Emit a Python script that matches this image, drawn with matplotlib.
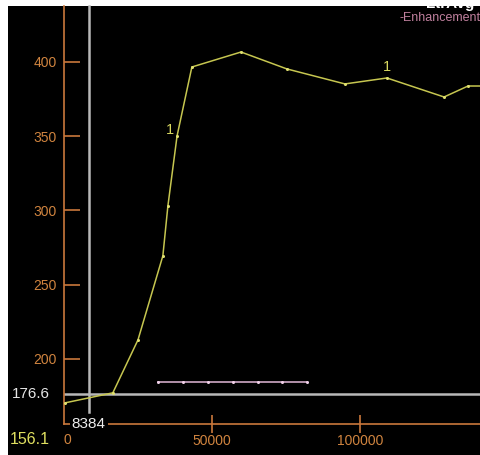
import matplotlib
matplotlib.use("Agg")
import matplotlib.pyplot as plt
from matplotlib.patches import Rectangle

plt.rcParams['font.family'] = ['Liberation Sans', 'DejaVu Sans']

# data
main_x = [500, 16500, 25000, 33400, 35100, 38200, 43200, 59800, 75300, 94900, 109100, 128400, 136500, 150000]
main_y = [170.4, 177.1, 212.8, 269.4, 303.0, 350.2, 396.6, 406.7, 395.3, 385.2, 389.2, 376.4, 383.8, 383.8]
enh_x = [31800, 40200, 48600, 57100, 65500, 73600, 82100]
enh_y = [184.5, 184.5, 184.5, 184.5, 184.5, 184.5, 184.5]
label_points = [(38200, 350.2), (109100, 389.2)]
yticks = [200, 250, 300, 350, 400]
xticks = [50000, 100000]
cross_x = 8384
cross_y = 176.6
ymin = 156.1
xmax = 140878
ymax = 437.7

W, H = 481, 455
fig = plt.figure(figsize=(W / 100, H / 100), dpi=100, facecolor='white')
fig.patches.append(Rectangle((8 / W, 0), 1, (H - 6) / H, transform=fig.transFigure,
                             facecolor='black', edgecolor='none', zorder=-5))

ax = fig.add_axes([64 / W, (H - 424) / H, (W - 64) / W, (424 - 6) / H])
ax.set_zorder(1)
ax.set_facecolor('black')
ax.set_xlim(0, xmax)
ax.set_ylim(ymin, ymax)

orange = '#c9773b'
for s in ['top', 'right']:
    ax.spines[s].set_visible(False)
for s in ['left', 'bottom']:
    ax.spines[s].set_color(orange)
    ax.spines[s].set_linewidth(1.2)

ax.set_yticks(yticks)
ax.set_xticks(xticks)
ax.tick_params(axis='y', direction='in', length=11.5, width=1.2, color=orange,
               labelcolor='#d0843f', labelsize=10, pad=5)
ax.tick_params(axis='x', direction='inout', length=13, width=1.2, color=orange,
               labelcolor='#d0843f', labelsize=10, pad=1)

yellow = '#c6c650'
ax.plot(main_x, main_y, color=yellow, lw=1.1, marker='o', ms=2.2,
        mfc='#e0e070', mec='none', zorder=3)
ax.plot(enh_x, enh_y, color='#e2b8d8', lw=1.1, marker='o', ms=2.2,
        mfc='#f0d0e8', mec='none', zorder=3)
for (px, py), (dx, dy) in zip(label_points, [(-7, 6), (0, 11)]):
    ax.annotate('1', (px, py), xytext=(dx * 0.72, dy * 0.72), textcoords='offset points',
                color='#d8d860', fontsize=10.5, ha='center', va='center', zorder=4)

# crosshair
ax.axhline(cross_y, color='#b8b8b8', lw=1.8, zorder=2)
ax.plot([cross_x, cross_x], [164.2, ymax], color='#b8b8b8', lw=1.8, zorder=2,
        clip_on=False)

ax.text(-0.033, cross_y, f'{cross_y}', transform=ax.get_yaxis_transform(),
        color='#e6e6e6', fontsize=11, ha='right', va='center')
ax.text(cross_x, ymin, f'{cross_x}', color='#eeeeee', fontsize=11, ha='center',
        va='center', bbox=dict(facecolor='black', edgecolor='none', pad=1.5),
        clip_on=False, zorder=5)
ax.text(-0.033, ymin - 10.5, f'{ymin}', transform=ax.get_yaxis_transform(),
        color='#e0e060', fontsize=11.5, ha='right', va='center', clip_on=False)
ax.text(1000, ymin - 10.5, '0', color='#d0843f', fontsize=10, ha='center',
        va='center', clip_on=False)

fig.text(0.999, 1 - 18 / H, '-Enhancement', color='#c0809e', fontsize=9,
         ha='right', va='center', zorder=6)
fig.text(0.985, 1 - 4 / H, 'LtrAvg', color='white', fontsize=11, fontweight='bold',
         ha='right', va='center', zorder=6)
fig.patches.append(Rectangle((0, (H - 5) / H), 1, 5 / H, transform=fig.transFigure,
                             facecolor='white', edgecolor='none', zorder=10))

fig.savefig('out.png', dpi=100, facecolor=fig.get_facecolor())
